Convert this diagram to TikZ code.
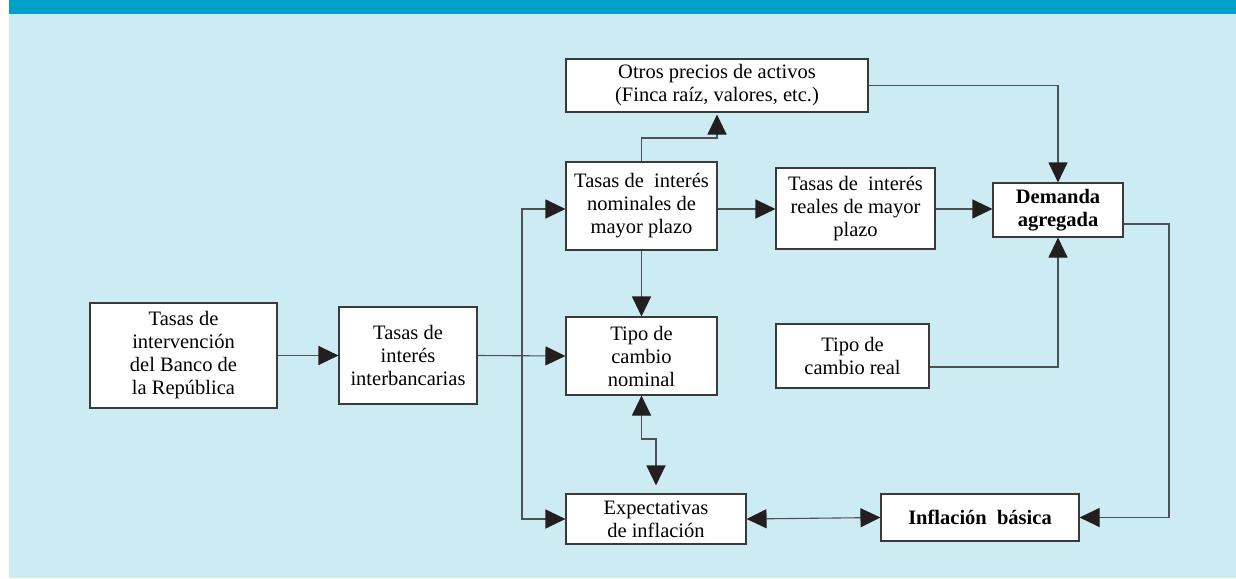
\documentclass[tikz,border=0pt]{standalone}
\usepackage{fontspec}
\setmainfont{Liberation Serif}
\usetikzlibrary{arrows.meta}
\definecolor{band}{HTML}{00A1C9}
\definecolor{bglight}{HTML}{CDEBF3}
\definecolor{ln}{HTML}{4A5256}
\definecolor{bx}{HTML}{3A3A3A}
\definecolor{tip}{HTML}{231F20}
\begin{document}
\begin{tikzpicture}[x=1pt,y=-1pt,
  box/.style={draw=bx, line width=1.1pt, fill=white, rectangle, align=center,
    inner sep=2pt, font=\fontsize{20.5}{23}\selectfont},
  con/.style={draw=ln, line width=1.1pt},
  arr/.style={con, -{Triangle[length=20pt,width=19pt,color=tip]}},
  arrb/.style={con, {Triangle[length=20pt,width=19pt,color=tip]}-{Triangle[length=20pt,width=19pt,color=tip]}}]
\useasboundingbox (0,0) rectangle (1236,578);
\fill[white] (0,0) rectangle (1236,578);
\fill[bglight] (9,0) rectangle (1236,578);
\fill[band] (9,0) rectangle (1236,14);

\node[box, minimum width=187pt, minimum height=105pt] (ban) at (183.5,355.5)
  {Tasas de\\intervención\\del Banco de\\la República};
\node[box, minimum width=138pt, minimum height=97pt] (inter) at (408,355.5)
  {Tasas de\\interés\\interbancarias};
\node[box, minimum width=302pt, minimum height=53pt] (otros) at (717,85.5)
  {Otros precios de activos\\(Finca raíz, valores, etc.)};
\node[box, minimum width=151pt, minimum height=88pt] (nom) at (641.5,206)
  {Tasas de\ \ interés\\nominales de\\mayor plazo};
\node[box, minimum width=159pt, minimum height=81pt] (real) at (855.5,208.5)
  {Tasas de\ \ interés\\reales de mayor\\plazo};
\node[box, minimum width=130pt, minimum height=54pt, font=\fontsize{20.5}{23}\selectfont\bfseries] (dem) at (1058,210)
  {Demanda\\agregada};
\node[box, minimum width=151pt, minimum height=78pt] (tcn) at (641.5,356)
  {Tipo de\\cambio\\nominal};
\node[box, minimum width=153pt, minimum height=64pt] (tcr) at (852.5,356)
  {Tipo de\\cambio real};
\node[box, minimum width=180pt, minimum height=50pt] (exp) at (656,519)
  {Expectativas\\de inflación};
\node[box, minimum width=198pt, minimum height=47pt, font=\fontsize{20.5}{23}\selectfont\bfseries] (inf) at (980,517.5)
  {Inflación\ \ básica};

\coordinate (r1) at (0,209);
\coordinate (r2) at (0,367);
\coordinate (r3) at (0,224);
\coordinate (j) at (522,356);
\coordinate (k) at (717,138);
\coordinate (m) at (656,439);
\coordinate (c) at (1169,224);

\draw[arr] (ban.east) -- (inter.west);
\draw[arr] (inter.east) -- (tcn.west);
\draw[arr] (j) |- (nom.west |- r1);
\draw[arr] (j) |- (exp.west);
\draw[arr] (nom.east |- r1) -- (real.west |- r1);
\draw[arr] (real.east |- r1) -- (dem.west |- r1);
\draw[arr, shorten >=2pt] (nom.north) |- (k) -- (otros.south);
\draw[arr] (otros.east) -| (dem.north);
\draw[arr] (nom.south) -- (tcn.north);
\draw[arr] (tcr.east |- r2) -| (dem.south);
\draw[arrb, shorten >=8pt] (tcn.south) |- (m) -- (exp.north);
\draw[arrb] (exp.east) -- (inf.west);
\draw[arr] (dem.east |- r3) -- (c) |- (inf.east);
\end{tikzpicture}
\end{document}
